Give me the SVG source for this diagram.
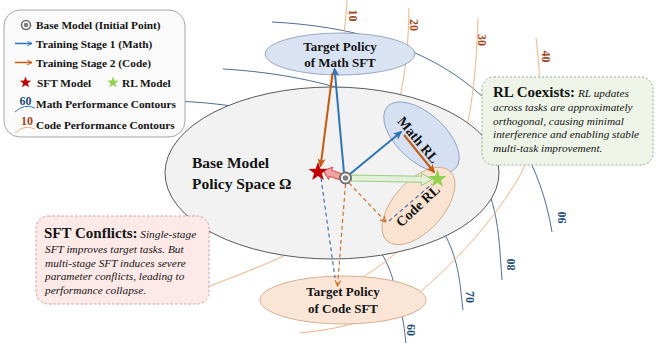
<svg xmlns="http://www.w3.org/2000/svg" width="656" height="343" viewBox="0 0 656 343">
<defs>
<style>
.t{font-family:"Liberation Serif","Times New Roman",serif;fill:#141414}
.b{font-weight:bold}
.i{font-style:italic}
.cb{fill:none;stroke:#4d6d99;stroke-width:1}
.co{fill:none;stroke:#f4b183;stroke-width:1}
.lb{font-family:"Liberation Serif","Times New Roman",serif;font-weight:bold;font-size:12px;fill:#1f4e79}
.lo{font-family:"Liberation Serif","Times New Roman",serif;font-weight:bold;font-size:12px;fill:#a0441a}
.ab{fill:none;stroke:#2e75b6;stroke-width:2}
.ao{fill:none;stroke:#c55a11;stroke-width:2}
.db{fill:none;stroke:#4a6fb5;stroke-width:1.2;stroke-dasharray:4 3}
.do{fill:none;stroke:#d0702a;stroke-width:1.2;stroke-dasharray:4 3}
</style>
<marker id="hb" viewBox="0 0 10 10" refX="8" refY="5" markerWidth="9" markerHeight="9" markerUnits="userSpaceOnUse" orient="auto"><path d="M0,0.5 L10,5 L0,9.5 L2.5,5 Z" fill="#2e75b6"/></marker>
<marker id="ho" viewBox="0 0 10 10" refX="8" refY="5" markerWidth="9" markerHeight="9" markerUnits="userSpaceOnUse" orient="auto"><path d="M0,0.5 L10,5 L0,9.5 L2.5,5 Z" fill="#c55a11"/></marker>
<marker id="hod" viewBox="0 0 10 10" refX="9" refY="5" markerWidth="7" markerHeight="7" markerUnits="userSpaceOnUse" orient="auto"><path d="M1,1 L9,5 L1,9" fill="none" stroke="#d0702a" stroke-width="1.6"/></marker>
<marker id="hbs" viewBox="0 0 10 10" refX="9" refY="5" markerWidth="6" markerHeight="6" markerUnits="userSpaceOnUse" orient="auto"><path d="M1,1 L9,5 L1,9" fill="none" stroke="#2e75b6" stroke-width="1.6"/></marker>
<marker id="hos" viewBox="0 0 10 10" refX="9" refY="5" markerWidth="6" markerHeight="6" markerUnits="userSpaceOnUse" orient="auto"><path d="M1,1 L9,5 L1,9" fill="none" stroke="#c55a11" stroke-width="1.6"/></marker>
<path id="star" d="M0,-10 L2.351,-3.236 L9.511,-3.090 L3.804,1.236 L5.878,8.090 L0,4 L-5.878,8.090 L-3.804,1.236 L-9.511,-3.090 L-2.351,-3.236 Z"/>
</defs>
<rect width="656" height="343" fill="#ffffff"/>

<g id="contours">
  <path class="cb" d="M272,22 C430,30 530,100 552,232"/>
  <path class="cb" d="M223,69 C330,75 420,110 460,150 S498,230 502,280"/>
  <path class="cb" d="M150,101 C250,99 340,125 400,180 C460,235 458,270 463,310"/>
  <path class="cb" d="M330,200 C360,220 385,250 393,280 S404,320 406,345"/>
  <path class="co" d="M347,0 C344,60 330,150 200,240"/>
  <path class="co" d="M409,8 C408,70 400,150 340,220 C310,250 250,270 200,290"/>
  <path class="co" d="M478,18 C476,80 470,150 440,200 C420,235 395,258 350,285"/>
  <path class="co" d="M536,38 C540,70 545,120 525,165 C512,195 470,250 420,292 C390,315 350,328 300,333"/>
  <text class="lb" transform="translate(562,217.5) rotate(-90)" text-anchor="middle" dominant-baseline="central">90</text>
  <text class="lb" transform="translate(511,264.5) rotate(-90)" text-anchor="middle" dominant-baseline="central">80</text>
  <text class="lb" transform="translate(470,297) rotate(90)" text-anchor="middle" dominant-baseline="central">70</text>
  <text class="lb" transform="translate(411,330) rotate(90)" text-anchor="middle" dominant-baseline="central">60</text>
  <text class="lo" transform="translate(353,15.5) rotate(90)" text-anchor="middle" dominant-baseline="central">10</text>
  <text class="lo" transform="translate(414,25) rotate(90)" text-anchor="middle" dominant-baseline="central">20</text>
  <text class="lo" transform="translate(482,40) rotate(90)" text-anchor="middle" dominant-baseline="central">30</text>
  <text class="lo" transform="translate(546,56.5) rotate(90)" text-anchor="middle" dominant-baseline="central">40</text>
</g>

<g id="base-space">
  <ellipse cx="332" cy="173" rx="167" ry="86" fill="#f2f2f2" stroke="#595959" stroke-width="1"/>
  <text class="t b" font-size="15.5" x="192" y="168">Base Model</text>
  <text class="t b" font-size="15.5" x="192" y="189">Policy Space Ω</text>
</g>

<g id="math-sft-target">
  <ellipse cx="340" cy="54" rx="75" ry="21" fill="#dae3f3" stroke="#8497b0" stroke-width="0.8"/>
  <text class="t b" font-size="13" x="340" y="51" text-anchor="middle">Target Policy</text>
  <text class="t b" font-size="13" x="340" y="66.5" text-anchor="middle">of Math SFT</text>
</g>

<g id="code-sft-target">
  <ellipse cx="343" cy="300" rx="83" ry="24" fill="#fbe5d6" stroke="#c9a27e" stroke-width="0.8"/>
  <text class="t b" font-size="13" x="343" y="296" text-anchor="middle">Target Policy</text>
  <text class="t b" font-size="13" x="343" y="312.5" text-anchor="middle">of Code SFT</text>
</g>

<g id="math-rl">
  <ellipse cx="421.5" cy="137.5" rx="46" ry="24" transform="rotate(42 421.5 137.5)" fill="#d5e0f3" stroke="#7f96c4" stroke-width="0.8"/>
  <text class="t b" font-size="14" transform="translate(418,140) rotate(50)" text-anchor="middle" dominant-baseline="central">Math RL</text>
</g>

<g id="code-rl">
  <ellipse cx="418.5" cy="206" rx="47" ry="25" transform="rotate(-48 418.5 206)" fill="#fbe3d2" stroke="#c9a27e" stroke-width="0.8"/>
  <text class="t b" font-size="14" transform="translate(418,206) rotate(-43)" text-anchor="middle" dominant-baseline="central">Code RL</text>
</g>

<g id="connectors">
  <g transform="translate(340,176.5) rotate(199)"><polygon points="0,-3.2 10,-3.2 10,-6.2 18,0 10,6.2 10,3.2 0,3.2" fill="#f4a3a3" stroke="#d94a4a" stroke-width="1"/></g>
  <g transform="translate(351.5,178) rotate(1.1)"><polygon points="0,-3 70,-3 70,-6 81,0 70,6 70,3 0,3" fill="#e2f0d9" stroke="#9fcc80" stroke-width="1"/></g>
  <path class="ab" d="M344,173 L334.6,69" marker-end="url(#hb)"/>
  <path class="ao" d="M332.5,73 L320.6,166" marker-end="url(#ho)"/>
  <path class="ab" d="M350,174 L401,132" marker-end="url(#hb)"/>
  <path class="ao" d="M404,135 L434,172" marker-end="url(#ho)"/>
  <path class="do" d="M349,183 L386,222" marker-end="url(#hod)"/>
  <path class="db" d="M389,221 L432,184"/>
  <path class="db" d="M321,178 L335,278"/>
  <path class="do" d="M345.5,184 L337.5,286" marker-end="url(#hod)"/>
</g>

<g id="base-point">
  <circle cx="345.5" cy="178" r="5.5" fill="#ffffff" stroke="#6f6f6f" stroke-width="1.8"/>
  <circle cx="345.5" cy="178" r="2.8" fill="#7f7f7f"/>
</g>
<g id="sft-star"><use href="#star" transform="translate(318,172)" fill="#c00000"/></g>
<g id="rl-star"><use href="#star" transform="translate(437.5,179) scale(0.95)" fill="#92d050"/></g>

<g id="rl-box">
  <rect x="482" y="77" width="171" height="88" rx="12" fill="#eef5e8" stroke="#9aa58e" stroke-width="1" stroke-dasharray="2 2"/>
  <text class="t" x="493" y="97"><tspan class="b" font-size="15">RL Coexists:</tspan><tspan class="i" font-size="11.3"> RL updates</tspan></text>
  <text class="t i" font-size="11.3" x="493" y="111">across tasks are approximately</text>
  <text class="t i" font-size="11.3" x="493" y="124.5">orthogonal, causing minimal</text>
  <text class="t i" font-size="11.3" x="493" y="138">interference and enabling stable</text>
  <text class="t i" font-size="11.3" x="493" y="151.5">multi-task improvement.</text>
</g>

<g id="sft-box">
  <rect x="36" y="216" width="173" height="88" rx="12" fill="#fde9e8" stroke="#c9a0a0" stroke-width="1" stroke-dasharray="2.5 2"/>
  <text class="t" x="44" y="238"><tspan class="b" font-size="15">SFT Conflicts:</tspan><tspan class="i" font-size="11.3"> Single-stage</tspan></text>
  <text class="t i" font-size="11.3" x="45" y="253">SFT improves target tasks. But</text>
  <text class="t i" font-size="11.3" x="45" y="266.5">multi-stage SFT induces severe</text>
  <text class="t i" font-size="11.3" x="45" y="280">parameter conflicts, leading to</text>
  <text class="t i" font-size="11.3" x="45" y="293.5">performance collapse.</text>
</g>

<g id="legend">
  <rect x="4" y="10" width="181" height="127" rx="16" fill="#fafafa" stroke="#a6a6a6" stroke-width="1"/>
  <circle cx="26" cy="25" r="4.5" fill="#ffffff" stroke="#6f6f6f" stroke-width="1.6"/>
  <circle cx="26" cy="25" r="2.3" fill="#7f7f7f"/>
  <text class="t b" font-size="11.3" x="36" y="29">Base Model (Initial Point)</text>
  <path d="M15,43.5 H32" stroke="#2e75b6" stroke-width="1.5" fill="none" marker-end="url(#hbs)"/>
  <text class="t b" font-size="11.3" x="36" y="47.5">Training Stage 1 (Math)</text>
  <path d="M15,62.5 H32" stroke="#c55a11" stroke-width="1.5" fill="none" marker-end="url(#hos)"/>
  <text class="t b" font-size="11.3" x="36" y="67">Training Stage 2 (Code)</text>
  <use href="#star" transform="translate(25.5,82.5) scale(0.6)" fill="#c00000"/>
  <text class="t b" font-size="11.3" x="37" y="87">SFT Model</text>
  <use href="#star" transform="translate(113,82.5) scale(0.6)" fill="#92d050"/>
  <text class="t b" font-size="11.3" x="122" y="87">RL Model</text>
  <text class="lb" font-size="11" x="25.5" y="105" text-anchor="middle">60</text>
  <path d="M15,112 Q24,103 35,108" fill="none" stroke="#2e75b6" stroke-width="1"/>
  <text class="t b" font-size="11.3" x="36" y="107.5">Math Performance Contours</text>
  <text class="lo" font-size="11" x="27" y="124.5" text-anchor="middle">10</text>
  <path d="M15,133 Q24,124 35,129" fill="none" stroke="#f4b183" stroke-width="1"/>
  <text class="t b" font-size="11.3" x="36" y="128.5">Code Performance Contours</text>
</g>
</svg>
